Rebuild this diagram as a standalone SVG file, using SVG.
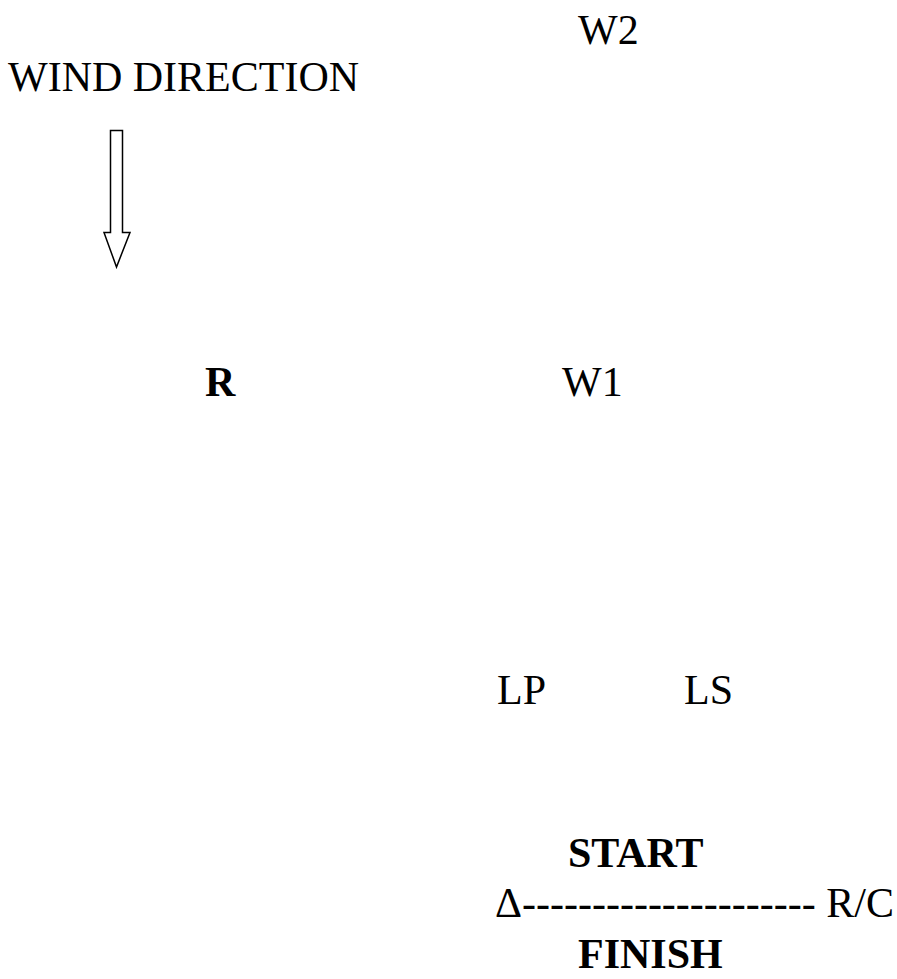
<svg xmlns="http://www.w3.org/2000/svg" width="897" height="979" viewBox="0 0 897 979">
<style>
text{font-family:"Liberation Serif","Times New Roman",serif;font-size:42px;fill:#000}
.b{font-weight:bold}
</style>
<rect width="897" height="979" fill="#fff"/>
<g id="w2"><text x="578" y="44">W2</text></g>
<g id="wind"><text x="8" y="91">WIND DIRECTION</text></g>
<g id="arrow"><path d="M110.5 130.5 H122.5 V232.5 H130 L116.5 267 L104 232.5 H110.5 Z" fill="none" stroke="#000" stroke-width="1.5"/></g>
<g id="r"><text class="b" x="205" y="396">R</text></g>
<g id="w1"><text x="562" y="396">W1</text></g>
<g id="lp"><text x="497" y="704">LP</text></g>
<g id="ls"><text x="684" y="704">LS</text></g>
<g id="start"><text class="b" x="568" y="867">START</text></g>
<g id="line"><text x="495" y="917">Δ--------------------- R/C</text></g>
<g id="finish"><text class="b" x="578" y="968">FINISH</text></g>
</svg>
